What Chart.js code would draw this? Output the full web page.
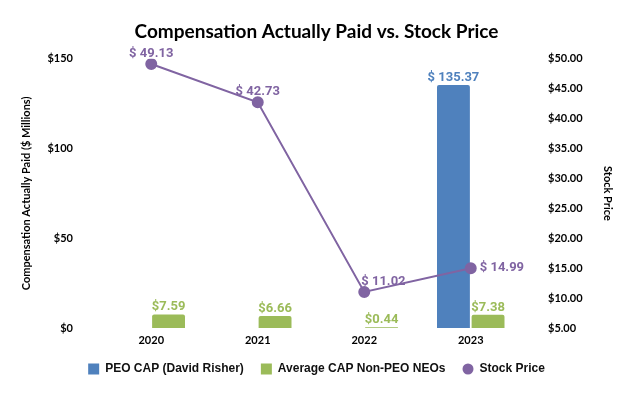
<!DOCTYPE html>
<html>
<head>
<meta charset="utf-8">
<script src="https://cdn.jsdelivr.net/npm/chart.js@4.4.0/dist/chart.umd.min.js"></script>
<style>
  html, body { margin: 0; padding: 0; background: #fff; }
  #wrap { width: 633px; height: 394px; }
</style>
</head>
<body>
<div id="wrap"><canvas id="chart" width="633" height="394"></canvas></div>
<script>
// data
const years = ['2020', '2021', '2022', '2023'];
const peoCap = [null, null, null, 135.37];
const neoCap = [7.59, 6.66, 0.44, 7.38];
const stockPrice = [49.13, 42.73, 11.02, 14.99];
const leftTicks = [0, 50, 100, 150];

// where the stock price label sits relative to its point
const stockLabelPos = ['top', 'top', 'topright', 'right'];

const BLUE = '#4F81BD';
const GREEN = '#9BBB59';
const PURPLE = '#8064A2';

// small round marker for the legend entry of the line
const dot = document.createElement('canvas');
dot.width = 12;
dot.height = 12;
const dctx = dot.getContext('2d');
dctx.fillStyle = PURPLE;
dctx.beginPath();
dctx.arc(6, 6, 5.5, 0, Math.PI * 2);
dctx.fill();

const valueLabels = {
    id: 'valueLabels',
    afterDatasetsDraw: function(chart) {
        const ctx = chart.ctx;
        ctx.save();
        ctx.font = 'bold 13px Roboto';
        chart.data.datasets.forEach(function(ds, i) {
            const meta = chart.getDatasetMeta(i);
            if (meta.hidden) return;
            meta.data.forEach(function(el, j) {
                const v = ds.data[j];
                if (v == null) return;
                ctx.fillStyle = ds.labelColor;
                let txt, x = el.x, y = el.y;
                if (ds.type === 'line') {
                    txt = '$ ' + v.toFixed(2);
                    const pos = stockLabelPos[j];
                    if (pos === 'right') {
                        ctx.textAlign = 'left';
                        ctx.textBaseline = 'middle';
                        x += 9;
                    } else if (pos === 'topright') {
                        ctx.textAlign = 'left';
                        ctx.textBaseline = 'bottom';
                        x -= 3;
                        y -= 4;
                    } else {
                        ctx.textAlign = 'center';
                        ctx.textBaseline = 'bottom';
                        y -= 4;
                    }
                } else {
                    txt = ds.labelSpace ? '$ ' + v.toFixed(2) : '$' + v.toFixed(2);
                    ctx.textAlign = 'center';
                    ctx.textBaseline = 'bottom';
                    y -= 1;
                }
                ctx.fillText(txt, x, y);
            });
        });
        ctx.restore();
    }
};

new Chart(document.getElementById('chart'), {
    data: {
        labels: years,
        datasets: [{
            type: 'line',
            label: 'Stock Price',
            data: stockPrice,
            yAxisID: 'y1',
            borderColor: PURPLE,
            backgroundColor: PURPLE,
            borderWidth: 2,
            pointRadius: 5,
            pointHoverRadius: 5,
            pointStyle: 'circle',
            labelColor: PURPLE,
            order: 0
        }, {
            type: 'bar',
            label: 'PEO CAP (David Risher)',
            data: peoCap,
            yAxisID: 'y',
            backgroundColor: BLUE,
            borderRadius: 2,
            pointStyle: 'rect',
            labelColor: BLUE,
            labelSpace: true,
            categoryPercentage: 0.65,
            barPercentage: 0.95,
            order: 1
        }, {
            type: 'bar',
            label: 'Average CAP Non-PEO NEOs',
            data: neoCap,
            yAxisID: 'y',
            backgroundColor: GREEN,
            borderRadius: 2,
            pointStyle: 'rect',
            labelColor: GREEN,
            labelSpace: false,
            categoryPercentage: 0.65,
            barPercentage: 0.95,
            order: 2
        }]
    },
    options: {
        responsive: false,
        animation: false,
        layout: { padding: { top: 8, left: 0, right: 0, bottom: 9 } },
        plugins: {
            title: {
                display: true,
                text: 'Compensation Actually Paid vs. Stock Price',
                color: '#000',
                font: { family: 'Lato', size: 19, weight: 'bold' },
                padding: { top: 12, bottom: 16 }
            },
            legend: {
                position: 'bottom',
                labels: {
                    usePointStyle: true,
                    boxWidth: 11,
                    boxHeight: 11,
                    padding: 17,
                    color: '#111',
                    font: { family: 'Liberation Sans', size: 12, weight: 'bold' },
                    sort: function(a, b) {
                        const rank = { 'PEO CAP (David Risher)': 0, 'Average CAP Non-PEO NEOs': 1, 'Stock Price': 2 };
                        return rank[a.text] - rank[b.text];
                    },
                    generateLabels: function(chart) {
                        const items = Chart.defaults.plugins.legend.labels.generateLabels(chart);
                        items.forEach(function(it) {
                            if (it.text === 'Stock Price') it.pointStyle = dot;
                        });
                        return items;
                    }
                }
            },
            tooltip: { enabled: false }
        },
        scales: {
            x: {
                grid: { display: false, drawTicks: false },
                border: { display: false },
                afterFit: function(axis) { axis.height = 18; },
                ticks: { color: '#000', font: { family: 'Lato', size: 11, weight: 'bold' }, padding: 6 }
            },
            y: {
                position: 'left',
                min: 0,
                max: 150,
                grid: { display: false, drawTicks: false },
                border: { display: false },
                afterFit: function(axis) { axis.width = 98; },
                afterBuildTicks: function(axis) {
                    axis.ticks = leftTicks.map(function(v) { return { value: v }; });
                },
                ticks: {
                    color: '#000',
                    padding: 25,
                    font: { family: 'Lato', size: 11, weight: 'bold' },
                    callback: function(v) { return '$' + v; }
                },
                title: {
                    display: true,
                    text: 'Compensation Actually Paid ($ Millions)',
                    color: '#000',
                    font: { family: 'Lato', size: 11, weight: 'bold' },
                    padding: { top: 20, bottom: 0 }
                }
            },
            y1: {
                position: 'right',
                min: 5,
                max: 50,
                grid: { display: false, drawTicks: false },
                border: { display: false },
                afterFit: function(axis) { axis.width = 109; },
                ticks: {
                    stepSize: 5,
                    color: '#000',
                    padding: 24,
                    font: { family: 'Lato', size: 11, weight: 'bold' },
                    callback: function(v) { return '$' + v.toFixed(2); }
                },
                title: {
                    display: true,
                    text: 'Stock Price',
                    color: '#000',
                    font: { family: 'Lato', size: 11, weight: 'bold' },
                    padding: { top: 19, bottom: 0 }
                }
            }
        }
    },
    plugins: [valueLabels]
});
</script>
</body>
</html>
